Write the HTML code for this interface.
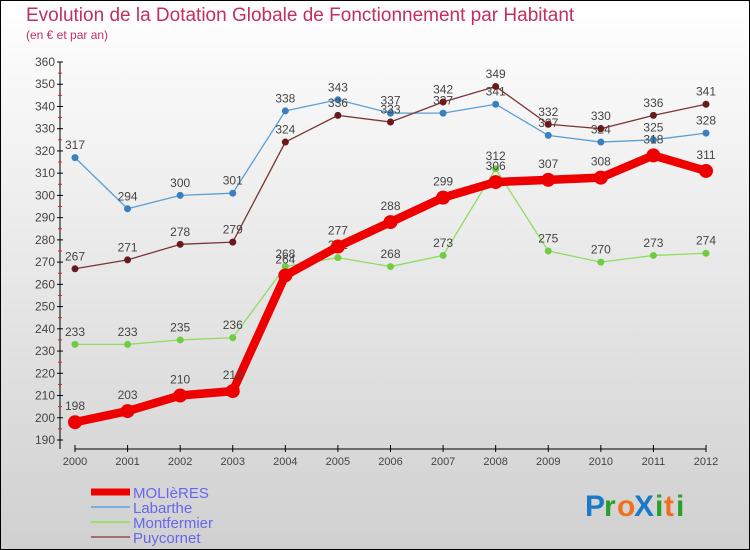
<!DOCTYPE html>
<html><head><meta charset="utf-8"><style>
body{margin:0;width:750px;height:550px;overflow:hidden;font-family:"Liberation Sans",sans-serif}
svg{display:block}
</style></head><body>
<svg width="750" height="550" xmlns="http://www.w3.org/2000/svg">
<defs><linearGradient id="bg" x1="0" y1="0" x2="0" y2="1"><stop offset="0" stop-color="#ffffff"/><stop offset="1" stop-color="#d0d0d0"/></linearGradient></defs>
<rect x="0.5" y="0.5" width="749" height="549" fill="url(#bg)" stroke="#000"/>
<text x="26" y="21" font-size="19" fill="#c0305a">Evolution de la Dotation Globale de Fonctionnement par Habitant</text>
<text x="26" y="39" font-size="12" fill="#c0305a">(en € et par an)</text>
<g id="axes"></g>
<g id="series"></g>
<g id="legend"></g>
<g font-size="30" font-weight="bold">
<text x="585" y="516" fill="#1a7ac8">P</text><text x="604" y="516" fill="#2aa02a">r</text><text x="617" y="516" fill="#f07020">o</text><text x="634" y="516" fill="#1a7ac8">X</text><text x="655" y="516" fill="#2aa02a">i</text><text x="664" y="516" fill="#f07020">t</text><text x="676" y="516" fill="#2aa02a">i</text>
</g>
</svg>
<script>
const years=[2000,2001,2002,2003,2004,2005,2006,2007,2008,2009,2010,2011,2012];
const molieres=[198,203,210,212,264,277,288,299,306,307,308,318,311];
const labarthe=[317,294,300,301,338,343,337,337,341,327,324,325,328];
const montfermier=[233,233,235,236,268,272,268,273,312,275,270,273,274];
const puycornet=[267,271,278,279,324,336,333,342,349,332,330,336,341];
const yTicks=[190,200,210,220,230,240,250,260,270,280,290,300,310,320,330,340,350,360];
const NS="http://www.w3.org/2000/svg";
const x=i=>75+i*(706-75)/(years.length-1);
const y=v=>440-(v-190)*(378/170);
function mk(t,a,p){const e=document.createElementNS(NS,t);for(const k in a)e.setAttribute(k,a[k]);p.appendChild(e);return e;}
const axes=document.getElementById('axes');
const ya=mk('line',{x1:60,y1:y(360),x2:60,y2:449,stroke:'#000'},axes);


const xa=mk('line',{x1:75,y1:449,x2:706,y2:449,stroke:'#000'},axes);


yTicks.forEach(v=>{
  mk('line',{x1:57,y1:y(v),x2:63,y2:y(v),stroke:'#000'},axes);
  if(v<360) mk('line',{x1:58,y1:y(v+5),x2:62,y2:y(v+5),stroke:'#e02020'},axes);
  const t=mk('text',{x:55,y:y(v)+4,'font-size':12,fill:'#444','text-anchor':'end'},axes);
  t.textContent=v;
  
  
});
years.forEach((yr,i)=>{
  mk('line',{x1:x(i),y1:445,x2:x(i),y2:452,stroke:'#000'},axes);
  const t=mk('text',{x:x(i),y:465,'font-size':11,fill:'#444','text-anchor':'middle'},axes);
  t.textContent=yr;
  
  
});
const ser=document.getElementById('series');
const defs=[
 {name:'labarthe',data:labarthe,color:'#5a9fd4',dot:'#3a80c0',w:1.3,r:3.5},
 {name:'montfermier',data:montfermier,color:'#90dd60',dot:'#70cc40',w:1.3,r:3.5},
 {name:'puycornet',data:puycornet,color:'#7a3535',dot:'#6a1a1a',w:1.3,r:3.5},
 {name:'molieres',data:molieres,color:'#ee0000',dot:'#ee0000',w:8.5,r:7}
];
defs.forEach(s=>{
  const g=mk('g',{},ser);
  
  
  const pl=mk('polyline',{points:s.data.map((v,i)=>x(i)+','+y(v)).join(' '),fill:'none',stroke:s.color,'stroke-width':s.w,'stroke-linejoin':'round'},g);
  
  
  s.data.forEach((v,i)=>{
    const c=mk('circle',{cx:x(i),cy:y(v),r:s.r,fill:s.dot},g);
    
    
    const t=mk('text',{x:x(i),y:y(v)-(s.r+5),'font-size':12,fill:'#444','text-anchor':'middle'},g);
    t.textContent=v;
    
    
  });
});
const lg=document.getElementById('legend');
const items=[['MOLIèRES','#ee0000',7],['Labarthe','#7ab0d8',2],['Montfermier','#a0dd70',2],['Puycornet','#a07070',2]];
items.forEach((it,i)=>{
  const yy=492+i*15;
  const g=mk('g',{},lg);
  
  
  mk('line',{x1:91,y1:yy,x2:130,y2:yy,stroke:it[1],'stroke-width':it[2]},g);
  const t=mk('text',{x:133,y:yy+6,'font-size':15,fill:'#6666ee'},g);
  t.textContent=it[0];
});
</script>
</body></html>
